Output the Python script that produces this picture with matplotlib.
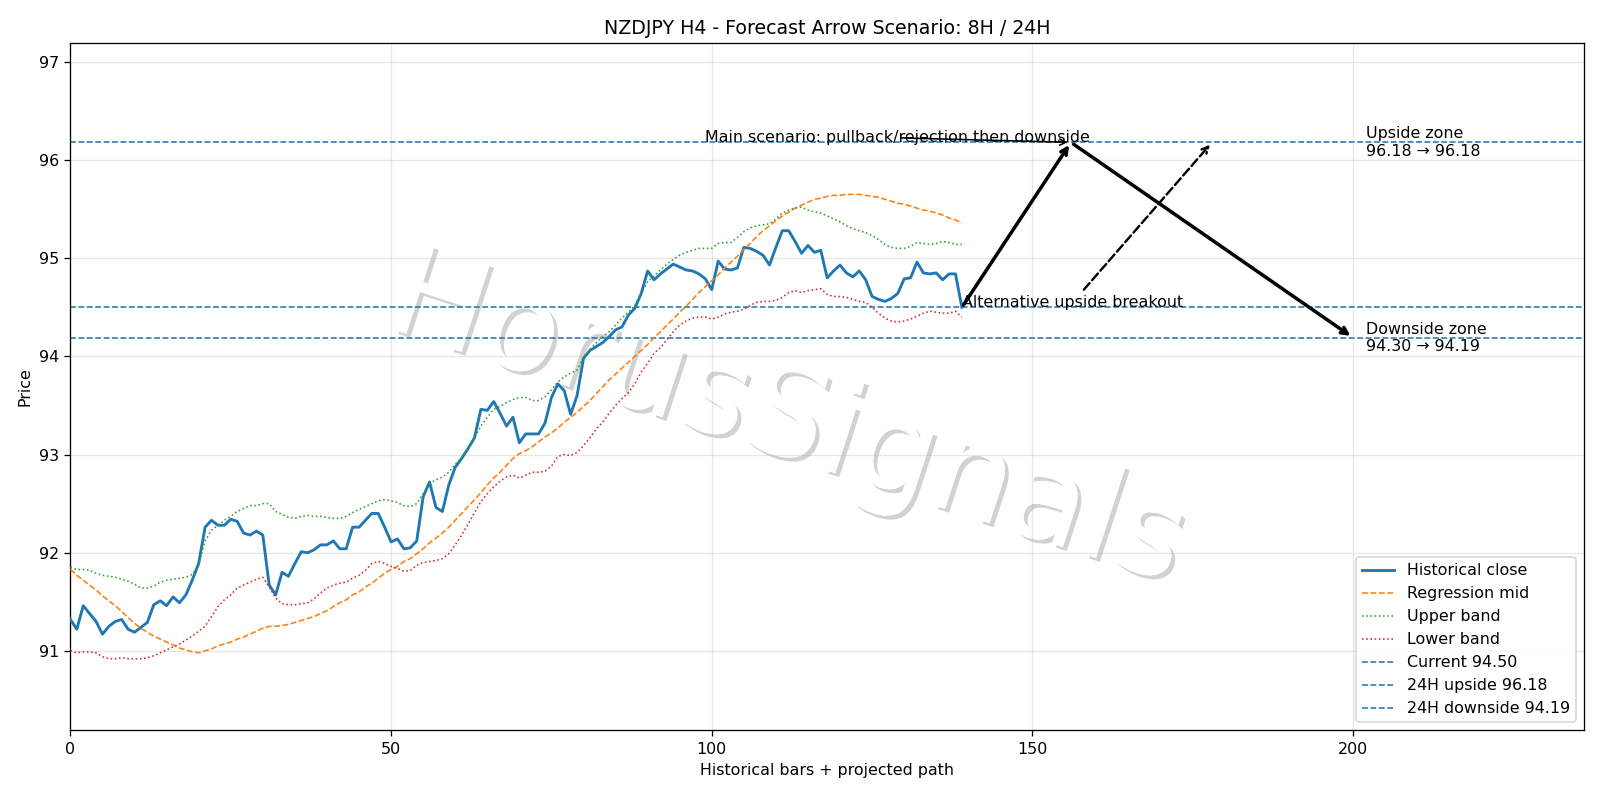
import numpy as np
import matplotlib
matplotlib.use("Agg")
import matplotlib.pyplot as plt
import matplotlib.patheffects as pe

# ---------------- data ----------------
close = [91.32, 91.22, 91.46, 91.38, 91.30, 91.17, 91.25, 91.30, 91.32, 91.22,
         91.19, 91.24, 91.29, 91.47, 91.51, 91.46, 91.55, 91.49, 91.57, 91.72,
         91.89, 92.26, 92.33, 92.28, 92.28, 92.34, 92.32, 92.20, 92.18, 92.22,
         92.18, 91.67, 91.57, 91.80, 91.76, 91.89, 92.01, 92.00, 92.03, 92.08,
         92.08, 92.12, 92.04, 92.04, 92.26, 92.26, 92.33, 92.40, 92.40, 92.26,
         92.11, 92.14, 92.04, 92.05, 92.12, 92.57, 92.72, 92.46, 92.42, 92.69,
         92.87, 92.96, 93.06, 93.17, 93.46, 93.45, 93.54, 93.42, 93.29, 93.38,
         93.12, 93.21, 93.21, 93.21, 93.32, 93.58, 93.72, 93.65, 93.41, 93.60,
         93.98, 94.06, 94.10, 94.14, 94.20, 94.27, 94.30, 94.42, 94.49, 94.64,
         94.87, 94.78, 94.84, 94.89, 94.94, 94.91, 94.88, 94.87, 94.84, 94.79,
         94.68, 94.97, 94.89, 94.88, 94.90, 95.11, 95.10, 95.07, 95.03, 94.93,
         95.11, 95.28, 95.28, 95.17, 95.05, 95.13, 95.06, 95.08, 94.80, 94.87,
         94.93, 94.85, 94.81, 94.87, 94.78, 94.61, 94.58, 94.56, 94.59, 94.64,
         94.79, 94.80, 94.96, 94.85, 94.84, 94.85, 94.78, 94.84, 94.84, 94.50]

reg_mid = [91.83, 91.77, 91.72, 91.67, 91.62, 91.56, 91.51, 91.46, 91.40, 91.34,
           91.28, 91.23, 91.19, 91.15, 91.12, 91.09, 91.06, 91.03, 91.01, 90.99,
           90.98, 91.00, 91.02, 91.05, 91.07, 91.09, 91.12, 91.14, 91.17, 91.20,
           91.23, 91.25, 91.25, 91.26, 91.27, 91.29, 91.31, 91.33, 91.35, 91.38,
           91.41, 91.45, 91.49, 91.52, 91.57, 91.60, 91.65, 91.69, 91.74, 91.79,
           91.83, 91.86, 91.91, 91.94, 91.99, 92.04, 92.10, 92.15, 92.20, 92.26,
           92.33, 92.40, 92.47, 92.54, 92.61, 92.69, 92.76, 92.82, 92.89, 92.96,
           93.01, 93.04, 93.08, 93.13, 93.18, 93.22, 93.27, 93.33, 93.38, 93.43,
           93.49, 93.55, 93.62, 93.69, 93.76, 93.82, 93.88, 93.94, 94.00, 94.06,
           94.12, 94.19, 94.25, 94.32, 94.38, 94.45, 94.51, 94.58, 94.65, 94.71,
           94.77, 94.83, 94.90, 94.96, 95.02, 95.09, 95.15, 95.22, 95.28, 95.33,
           95.38, 95.43, 95.47, 95.51, 95.54, 95.57, 95.60, 95.61, 95.63, 95.64,
           95.64, 95.65, 95.65, 95.65, 95.64, 95.63, 95.62, 95.60, 95.58, 95.56,
           95.55, 95.53, 95.51, 95.49, 95.48, 95.46, 95.44, 95.41, 95.39, 95.36]

upper_band = [91.85, 91.83, 91.83, 91.82, 91.79, 91.77, 91.76, 91.75, 91.73, 91.71,
              91.68, 91.64, 91.64, 91.66, 91.70, 91.72, 91.73, 91.74, 91.75, 91.78,
              91.88, 92.12, 92.23, 92.28, 92.33, 92.37, 92.42, 92.45, 92.48, 92.48,
              92.50, 92.50, 92.42, 92.39, 92.36, 92.35, 92.37, 92.38, 92.37, 92.37,
              92.36, 92.35, 92.35, 92.37, 92.41, 92.44, 92.47, 92.50, 92.53, 92.54,
              92.53, 92.51, 92.48, 92.47, 92.50, 92.60, 92.71, 92.74, 92.77, 92.82,
              92.90, 92.97, 93.06, 93.17, 93.29, 93.38, 93.46, 93.49, 93.53, 93.56,
              93.58, 93.58, 93.55, 93.55, 93.59, 93.66, 93.74, 93.79, 93.83, 93.86,
              93.99, 94.07, 94.14, 94.20, 94.25, 94.32, 94.39, 94.45, 94.52, 94.64,
              94.76, 94.82, 94.88, 94.94, 94.99, 95.03, 95.06, 95.08, 95.10, 95.10,
              95.10, 95.15, 95.16, 95.16, 95.21, 95.27, 95.31, 95.33, 95.34, 95.35,
              95.40, 95.46, 95.49, 95.51, 95.52, 95.49, 95.47, 95.46, 95.43, 95.40,
              95.37, 95.33, 95.30, 95.28, 95.26, 95.23, 95.19, 95.14, 95.11, 95.10,
              95.10, 95.12, 95.16, 95.15, 95.14, 95.15, 95.17, 95.16, 95.14, 95.14]

lower_band = [91.00, 90.98, 90.99, 90.99, 90.98, 90.94, 90.92, 90.92, 90.93, 90.92,
              90.92, 90.92, 90.93, 90.95, 90.98, 91.01, 91.04, 91.07, 91.11, 91.15,
              91.20, 91.25, 91.35, 91.45, 91.52, 91.57, 91.64, 91.67, 91.70, 91.73,
              91.75, 91.65, 91.54, 91.48, 91.47, 91.47, 91.48, 91.49, 91.53, 91.59,
              91.64, 91.67, 91.69, 91.70, 91.74, 91.77, 91.82, 91.89, 91.91, 91.89,
              91.86, 91.84, 91.81, 91.82, 91.87, 91.90, 91.91, 91.92, 91.94, 91.99,
              92.08, 92.18, 92.29, 92.41, 92.52, 92.60, 92.67, 92.73, 92.77, 92.79,
              92.76, 92.79, 92.82, 92.82, 92.83, 92.88, 92.98, 93.00, 92.99, 93.02,
              93.09, 93.17, 93.26, 93.33, 93.42, 93.50, 93.57, 93.63, 93.72, 93.84,
              93.93, 94.03, 94.09, 94.17, 94.25, 94.32, 94.36, 94.39, 94.40, 94.40,
              94.38, 94.40, 94.43, 94.45, 94.46, 94.48, 94.52, 94.55, 94.56, 94.56,
              94.57, 94.60, 94.65, 94.67, 94.65, 94.67, 94.68, 94.69, 94.63, 94.61,
              94.61, 94.60, 94.58, 94.56, 94.55, 94.50, 94.44, 94.39, 94.36, 94.35,
              94.36, 94.38, 94.41, 94.44, 94.46, 94.45, 94.44, 94.44, 94.46, 94.40]

current_price = 94.50
upside_target = 96.18
downside_start = 94.30
downside_target = 94.19

symbol = "NZDJPY"
timeframe = "H4"
# projected path: bar offsets from the last historical bar
peak_offset = 17
end_offset = 61
alt_offset = 39

# ---------------- plot ----------------
DPI = 1600 / 14
fig = plt.figure(figsize=(14, 7), dpi=DPI)
ax = fig.add_axes([0.044, 0.087, 0.946, 0.859])

x = np.arange(len(close))
last = x[-1]

fig.text(0.492, 0.474, "HorusSignals", fontsize=80,
         color="white", rotation=-18, ha="center", va="center", zorder=0.5,
         path_effects=[pe.withSimplePatchShadow(offset=(2.5, -2.5), shadow_rgbFace="gray", alpha=0.35),
                       pe.Normal()])
ax.set_zorder(1)
ax.patch.set_alpha(0)

ax.plot(x, close, color="C0", lw=1.8, label="Historical close", zorder=3)
ax.plot(x, reg_mid, color="C1", lw=1, ls="--", label="Regression mid", zorder=3)
ax.plot(x, upper_band, color="C2", lw=1, ls=":", label="Upper band", zorder=3)
ax.plot(x, lower_band, color="C3", lw=1, ls=":", label="Lower band", zorder=3)

ax.axhline(current_price, color="C0", ls="--", lw=1, label=f"Current {current_price:.2f}")
ax.axhline(upside_target, color="C0", ls="--", lw=1, label=f"24H upside {upside_target:.2f}")
ax.axhline(downside_target, color="C0", ls="--", lw=1, label=f"24H downside {downside_target:.2f}")

x_peak = last + peak_offset
x_end = last + end_offset
x_alt = last + alt_offset

ax.annotate("", xy=(x_peak, upside_target), xytext=(last, current_price),
            arrowprops=dict(arrowstyle="->", lw=2.2, color="black"), zorder=5)
ax.annotate("", xy=(x_end, downside_target), xytext=(x_peak, upside_target),
            arrowprops=dict(arrowstyle="->", lw=2.2, color="black"), zorder=5)
ax.annotate("Main scenario: pullback/rejection then downside",
            xy=(x_peak, upside_target), xytext=(last - 40, upside_target),
            arrowprops=dict(arrowstyle="->", lw=1.0, color="black", patchA=None),
            zorder=5)
ax.annotate("Alternative upside breakout",
            xy=(x_alt, upside_target), xytext=(last, current_price),
            arrowprops=dict(arrowstyle="->", lw=1.5, ls="--", color="black"),
            zorder=5)

ax.text(x_end + 2, upside_target, f"Upside zone\n{upside_target:.2f} \u2192 {upside_target:.2f}",
        va="center", ha="left")
ax.text(x_end + 2, downside_target, f"Downside zone\n{downside_start:.2f} \u2192 {downside_target:.2f}",
        va="center", ha="left")

ax.set_xlim(0, 236)
ax.set_ylim(90.19, 97.19)
ax.grid(True, alpha=0.3)
ax.set_title(f"{symbol} {timeframe} - Forecast Arrow Scenario: 8H / 24H")
ax.set_xlabel("Historical bars + projected path")
ax.set_ylabel("Price")
ax.legend(loc="lower right")

fig.savefig("out.png", dpi=DPI)
